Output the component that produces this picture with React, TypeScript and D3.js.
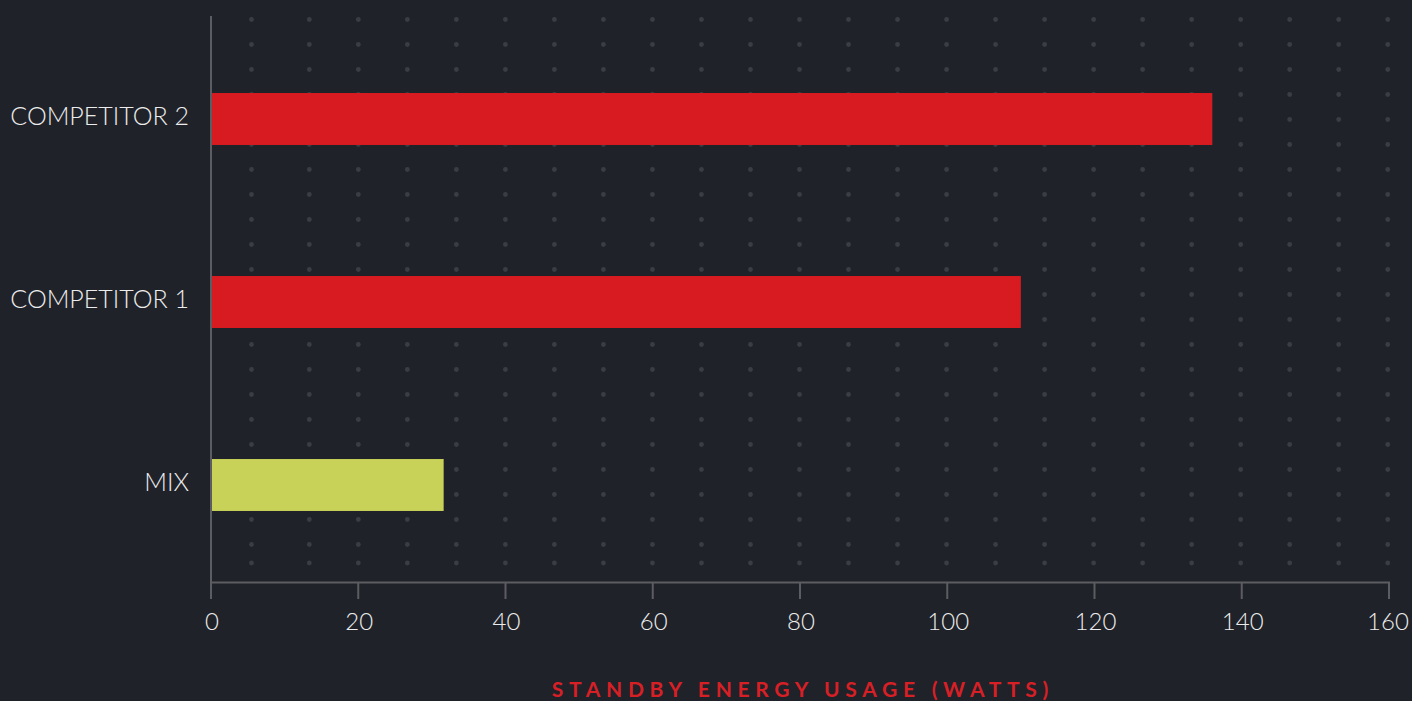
import React, { useEffect, useRef } from 'react';
import * as d3 from 'd3';

const categories = ['COMPETITOR 2', 'COMPETITOR 1', 'MIX'];
const values = [136, 110, 31.6];
const barColors = ['#d81b21', '#d81b21', '#c8d158'];
const xTicks = [0, 20, 40, 60, 80, 100, 120, 140, 160];
const xTitle = 'STANDBY ENERGY USAGE (WATTS)';

const W = 1412;
const H = 701;

const App = () => {
  const svgRef = useRef<SVGSVGElement>(null);

  useEffect(() => {
    if (!svgRef.current) return;
    const svg = d3.select(svgRef.current);
    svg.selectAll('*').remove();

    const font = 'Lato, "Noto Sans", sans-serif';

    svg.append('rect').attr('width', W).attr('height', H).attr('fill', '#202229');

    // scales
    const x = d3.scaleLinear().domain([0, 160]).range([211, 1389]);
    const y = d3.scaleBand<string>()
      .domain(categories)
      .range([27.5, 576.5])
      .paddingInner(0.716)
      .paddingOuter(0.358);

    // dotted background grid
    const dotCols = [251.5];
    for (let cx = 309.3; cx < 1392; cx += 49.02) dotCols.push(cx);
    const dotRows: number[] = [];
    for (let cy = 19.5; cy < 550; cy += 25) dotRows.push(cy);
    dotRows.push(563);
    const dots = svg.append('g');
    dotRows.forEach(cy => {
      dotCols.forEach(cx => {
        dots.append('circle')
          .attr('cx', cx)
          .attr('cy', cy)
          .attr('r', 2.4)
          .attr('fill', '#3a3d44');
      });
    });

    // bars
    svg.append('g')
      .selectAll('rect')
      .data(categories)
      .enter()
      .append('rect')
      .attr('x', x(0) + 1)
      .attr('y', d => y(d)!)
      .attr('width', (d, i) => x(values[i]) - x(0) - 1)
      .attr('height', y.bandwidth())
      .attr('fill', (d, i) => barColors[i]);

    // axes lines
    const axisColor = '#5b5d62';
    svg.append('line')
      .attr('x1', x(0)).attr('x2', x(0))
      .attr('y1', 16).attr('y2', 583)
      .attr('stroke', axisColor).attr('stroke-width', 2);

    svg.append('line')
      .attr('x1', x(0)).attr('x2', x(160) + 1)
      .attr('y1', 582.5).attr('y2', 582.5)
      .attr('stroke', axisColor).attr('stroke-width', 2);

    const ticks = svg.append('g');
    xTicks.forEach(t => {
      ticks.append('line')
        .attr('x1', x(t)).attr('x2', x(t))
        .attr('y1', 582).attr('y2', 599)
        .attr('stroke', axisColor).attr('stroke-width', 2);
      ticks.append('text')
        .attr('x', x(t) + (t === 160 ? -1 : 1))
        .attr('y', 630)
        .attr('text-anchor', 'middle')
        .attr('fill', '#ececec')
        .style('font-family', font)
        .style('font-weight', 300)
        .style('font-size', '24px')
        .text(t);
    });

    // category labels
    svg.append('g')
      .selectAll('text')
      .data(categories)
      .enter()
      .append('text')
      .attr('x', 189)
      .attr('y', d => y(d)! + y.bandwidth() / 2 + 6)
      .attr('text-anchor', 'end')
      .attr('fill', '#ececec')
      .style('font-family', font)
      .style('font-weight', 300)
      .style('font-size', '25px')
      .text(d => d);

    // x axis title
    const ls = 5.7;
    svg.append('text')
      .attr('x', 800 + ls / 2)
      .attr('y', 697)
      .attr('text-anchor', 'middle')
      .attr('fill', '#d71f26')
      .style('font-family', font)
      .style('font-weight', 700)
      .style('font-size', '21px')
      .style('letter-spacing', `${ls}px`)
      .text(xTitle);
  }, []);

  return (
    <svg
      ref={svgRef}
      width={W}
      height={H}
      style={{ position: 'fixed', left: 0, top: 0, display: 'block' }}
    />
  );
};

export default App;
